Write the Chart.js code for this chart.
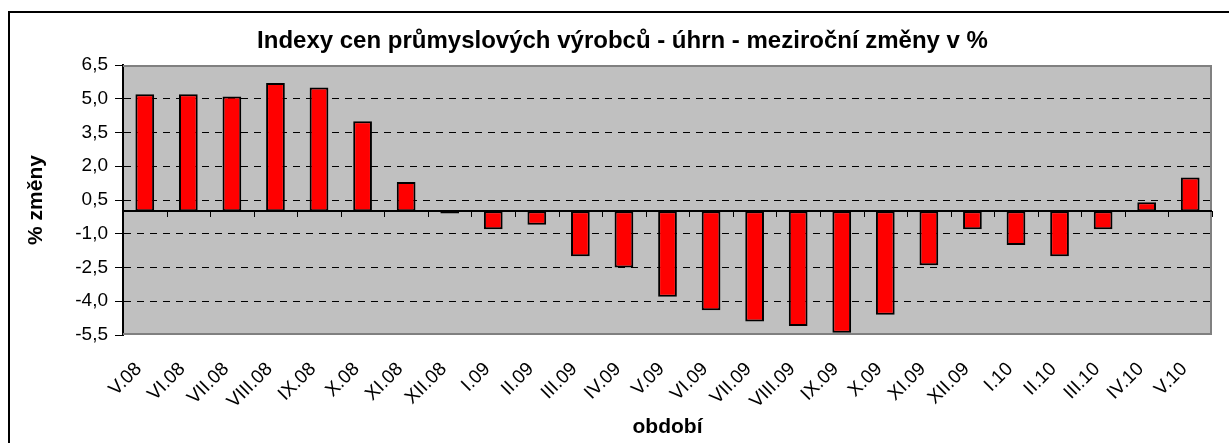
<!DOCTYPE html>
<html>
<head>
<meta charset="utf-8">
<script src="https://cdn.jsdelivr.net/npm/chart.js@4/dist/chart.umd.min.js"></script>
<style>
  html, body { margin: 0; padding: 0; background: #fff; overflow: hidden; width: 1229px; height: 443px; }
  #frame { position: absolute; left: 8px; top: 11px; width: 1260px; height: 480px; border: 2px solid #000; box-sizing: border-box; }
  #c { position: absolute; left: 0; top: 0; }
</style>
</head>
<body>
<div id="frame"></div>
<canvas id="c" width="1229" height="443"></canvas>
<script>
const categories = ['V.08','VI.08','VII.08','VIII.08','IX.08','X.08','XI.08','XII.08','I.09','II.09','III.09','IV.09','V.09','VI.09','VII.09','VIII.09','IX.09','X.09','XI.09','XII.09','I.10','II.10','III.10','IV.10','V.10'];
const values = [5.2, 5.2, 5.1, 5.7, 5.5, 4.0, 1.3, -0.1, -0.8, -0.6, -2.0, -2.5, -3.8, -4.4, -4.9, -5.1, -5.4, -4.6, -2.4, -0.8, -1.5, -2.0, -0.8, 0.4, 1.5];
const yTickValues = [-5.5, -4.0, -2.5, -1.0, 0.5, 2.0, 3.5, 5.0, 6.5];
const yTickLabels = ['-5,5', '-4,0', '-2,5', '-1,0', '0,5', '2,0', '3,5', '5,0', '6,5'];
const titleText = 'Indexy cen průmyslových výrobců - úhrn - meziroční změny v %';
const xTitle = 'období';
const yTitle = '% změny';

const FONT = "'Liberation Sans', Arial, sans-serif";

const plotPlugin = {
  id: 'plotPlugin',
  beforeDraw(chart) {
    const {ctx, chartArea: a} = chart;
    ctx.save();
    ctx.fillStyle = '#C0C0C0';
    ctx.fillRect(a.left, a.top, a.right - a.left, a.bottom - a.top);
    ctx.restore();
  },
  beforeDatasetsDraw(chart) {
    const {ctx, chartArea: a, scales} = chart;
    const x = scales.x, y = scales.y;
    ctx.save();
    ctx.setLineDash([]);
    // plot frame
    ctx.strokeStyle = '#808080';
    ctx.lineWidth = 2;
    ctx.beginPath();
    ctx.moveTo(a.left, a.top + 1);
    ctx.lineTo(a.right - 1, a.top + 1);
    ctx.lineTo(a.right - 1, a.bottom - 1);
    ctx.lineTo(a.left, a.bottom - 1);
    ctx.stroke();
    // zero line (category axis crossing)
    const y0 = Math.round(y.getPixelForValue(0));
    ctx.strokeStyle = '#000';
    ctx.lineWidth = 2;
    ctx.beginPath();
    ctx.moveTo(a.left, y0);
    ctx.lineTo(a.right, y0);
    ctx.stroke();
    // tick marks between categories on the zero line
    const n = categories.length;
    const step = x.getPixelForValue(1) - x.getPixelForValue(0);
    ctx.lineWidth = 1;
    ctx.beginPath();
    for (let i = 1; i <= n; i++) {
      const px = Math.round(x.getPixelForValue(i - 1) + step / 2) + 0.5;
      ctx.moveTo(px, y0);
      ctx.lineTo(px, y0 + 6);
    }
    ctx.stroke();
    ctx.restore();
  }
};

new Chart(document.getElementById('c'), {
  type: 'bar',
  data: {
    labels: categories,
    datasets: [{
      data: values,
      backgroundColor: '#FF0000',
      borderColor: '#000000',
      borderWidth: 2,
      borderSkipped: false,
      barPercentage: 0.43,
      categoryPercentage: 1.0,
      yAxisID: 'y'
    }]
  },
  options: {
    responsive: false,
    devicePixelRatio: 1,
    animation: false,
    layout: { padding: { left: 16, right: 0, top: 0, bottom: 0 } },
    plugins: {
      legend: { display: false },
      tooltip: { enabled: false },
      title: {
        display: true,
        text: titleText,
        color: '#000',
        font: { family: FONT, size: 24, weight: 'bold' },
        padding: { top: 27, bottom: 9.2 }
      }
    },
    scales: {
      x: {
        type: 'category',
        offset: true,
        grid: { display: false, drawTicks: false },
        border: { display: false },
        ticks: {
          autoSkip: false,
          minRotation: 45,
          maxRotation: 45,
          padding: 23,
          labelOffset: -6,
          color: '#000',
          font: { family: FONT, size: 19 }
        },
        title: {
          display: true,
          text: xTitle,
          color: '#000',
          font: { family: FONT, size: 21, weight: 'bold' },
          padding: { top: 0, bottom: 3.4 }
        },
        afterFit(s) { s.height = 108; s.paddingLeft = 0; s.paddingRight = 0; }
      },
      y: {
        type: 'linear',
        position: 'left',
        min: -5.5,
        max: 6.5,
        afterBuildTicks(s) { s.ticks = yTickValues.map(v => ({ value: v })); },
        ticks: {
          color: '#000',
          padding: 7,
          font: { family: FONT, size: 19 },
          callback: (v, i) => yTickLabels[i]
        },
        grid: {
          color: ctx => (ctx.tick && (ctx.tick.value === 6.5 || ctx.tick.value === -5.5)) ? 'rgba(0,0,0,0)' : '#000',
          tickColor: '#000',
          tickLength: 8,
          lineWidth: 1,
          tickBorderDash: []
        },
        border: { display: true, color: '#000', width: 2, dash: [7, 6] },
        title: {
          display: true,
          text: yTitle,
          color: '#000',
          font: { family: FONT, size: 21, weight: 'bold' },
          padding: { top: 8, bottom: 0 }
        },
        afterFit(s) { s.width = 107; }
      },
      y2: {
        type: 'linear',
        position: 'right',
        min: 0,
        max: 1,
        display: true,
        grid: { display: false, drawTicks: false },
        border: { display: false },
        ticks: { display: false },
        afterFit(s) { s.width = 17; }
      }
    }
  },
  plugins: [plotPlugin]
});
</script>
</body>
</html>
